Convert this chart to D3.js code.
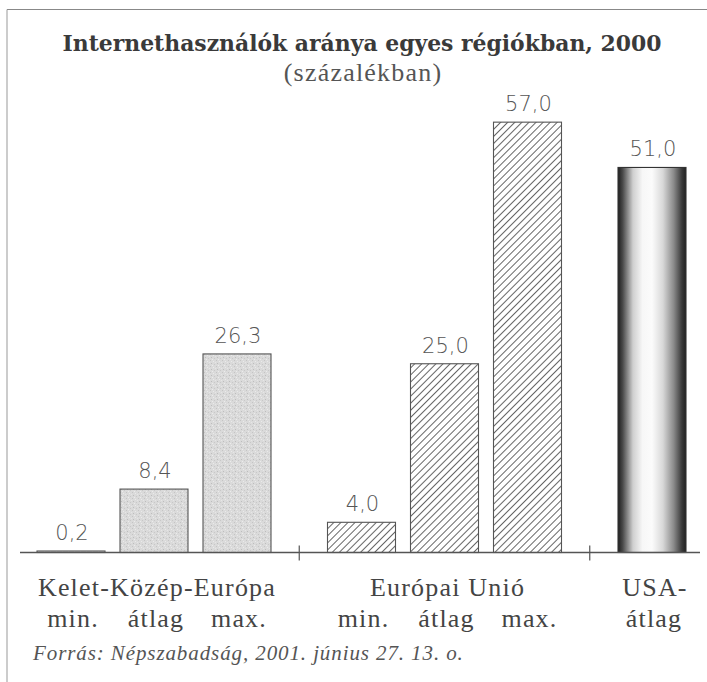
<!DOCTYPE html>
<html>
<head>
<meta charset="utf-8">
<script src="https://cdn.jsdelivr.net/npm/d3@7"></script>
<style>
  html, body { margin: 0; padding: 0; background: #fff; }
  svg { display: block; }
</style>
</head>
<body>
<div id="chart"></div>
<script>
// data
var groupNames = ["Kelet-Közép-Európa", "Európai Unió", "USA-"];
var barGroup   = [0, 0, 0, 1, 1, 1, 2];
var barNames   = ["min.", "átlag", "max.", "min.", "átlag", "max.", "átlag"];
var values     = [0.2, 8.4, 26.3, 4.0, 25.0, 57.0, 51.0];

var width = 707, height = 682;
var baseY = 552.5;
var barW = 68;

var svg = d3.select("#chart").append("svg")
  .attr("width", width)
  .attr("height", height);

var defs = svg.append("defs");

// stippled light grey
var dots = defs.append("pattern")
  .attr("id", "dots")
  .attr("patternUnits", "userSpaceOnUse")
  .attr("width", 6).attr("height", 6);
dots.append("rect").attr("width", 6).attr("height", 6).attr("fill", "#dadada");
[[0,0,"#c4c4c4"],[3,1,"#eaeaea"],[1,3,"#bdbdbd"],[4,4,"#c8c8c8"],[5,2,"#e6e6e6"],[2,5,"#ececec"]]
  .forEach(function(p) {
    dots.append("rect").attr("x", p[0]).attr("y", p[1]).attr("width", 1).attr("height", 1).attr("fill", p[2]);
  });

// diagonal hatch
var hatch = defs.append("pattern")
  .attr("id", "hatch")
  .attr("patternUnits", "userSpaceOnUse")
  .attr("width", 5).attr("height", 5)
  .attr("patternTransform", "rotate(45)");
hatch.append("rect").attr("width", 5).attr("height", 5).attr("fill", "#fff");
hatch.append("line")
  .attr("x1", 0.5).attr("y1", 0).attr("x2", 0.5).attr("y2", 5)
  .attr("stroke", "#555").attr("stroke-width", 0.9);

// cylinder shading
var cyl = defs.append("linearGradient")
  .attr("id", "cyl")
  .attr("x1", "0%").attr("x2", "100%").attr("y1", "0%").attr("y2", "0%");
[["0%","#1e1e1e"],["7%","#4a4a4a"],["22%","#cfcfcf"],["36%","#f7f7f7"],["50%","#fbfbfb"],
 ["66%","#d8d8d8"],["82%","#8a8a8a"],["94%","#3a3a3a"],["100%","#222"]]
  .forEach(function(s) { cyl.append("stop").attr("offset", s[0]).attr("stop-color", s[1]); });

var fills = ["url(#dots)", "url(#hatch)", "url(#cyl)"];

// frame
svg.append("line").attr("x1", 7).attr("x2", width).attr("y1", 9.5).attr("y2", 9.5)
  .attr("stroke", "#888").attr("stroke-width", 1.2);
svg.append("line").attr("x1", 7).attr("x2", 7).attr("y1", 9.5).attr("y2", height)
  .attr("stroke", "#999").attr("stroke-width", 1);

// title
svg.append("text")
  .attr("x", 362).attr("y", 51)
  .attr("text-anchor", "middle")
  .attr("font-family", "'DejaVu Serif'")
  .attr("font-weight", "bold")
  .attr("font-size", 21.9)
  .attr("fill", "#3a3a3a")
  .text("Internethasználók aránya egyes régiókban, 2000");
svg.append("text")
  .attr("x", 363).attr("y", 81)
  .attr("text-anchor", "middle")
  .attr("font-family", "'Liberation Serif'")
  .attr("font-size", 26)
  .attr("letter-spacing", 1.2)
  .attr("fill", "#555")
  .text("(százalékban)");

// slots: bars within a group are 1 apart, groups have an extra half slot between them
var slot = values.map(function(d, i) {
  var g = barGroup[i];
  var first = barGroup.indexOf(g);
  return g * 3.5 + (i - first);
});

var x = d3.scaleLinear().domain([0, 7]).range([71, 652]);
var y = d3.scaleLinear().domain([0, 60]).range([baseY, baseY - 60 * 7.55]);

var fmt = function(v) { return d3.format(".1f")(v).replace(".", ","); };

// bars
svg.append("g").selectAll("rect")
  .data(values)
  .enter()
  .append("rect")
    .attr("x", function(d, i) { return x(slot[i]) - barW / 2; })
    .attr("y", function(d) { return y(d); })
    .attr("width", barW)
    .attr("height", function(d) { return baseY - y(d); })
    .attr("fill", function(d, i) { return fills[barGroup[i]]; })
    .attr("stroke", function(d, i) { return barGroup[i] == 2 ? "#333" : "#555"; })
    .attr("stroke-width", 1.1);

// value labels
svg.append("g").selectAll("text")
  .data(values)
  .enter()
  .append("text")
    .attr("x", function(d, i) { return x(slot[i]) + 1; })
    .attr("y", function(d) { return y(d) - 11; })
    .attr("text-anchor", "middle")
    .attr("font-family", "'DejaVu Sans'")
    .attr("font-weight", 300)
    .attr("font-size", 21)
    .attr("fill", "#555")
    .text(fmt);

// base line and group separators
svg.append("line")
  .attr("x1", 20).attr("x2", 700).attr("y1", baseY).attr("y2", baseY)
  .attr("stroke", "#555").attr("stroke-width", 1.3);

var seps = [];
for (var i = 1; i < values.length; i++) {
  if (barGroup[i] != barGroup[i - 1]) seps.push((slot[i] + slot[i - 1]) / 2);
}
svg.append("g").selectAll("line")
  .data(seps)
  .enter()
  .append("line")
    .attr("x1", function(d) { return x(d); })
    .attr("x2", function(d) { return x(d); })
    .attr("y1", baseY - 7).attr("y2", baseY + 8)
    .attr("stroke", "#555").attr("stroke-width", 1.2);

// category labels
svg.append("g").selectAll("text")
  .data(groupNames)
  .enter()
  .append("text")
    .attr("x", function(d, g) {
      return d3.mean(slot.filter(function(s, i) { return barGroup[i] == g; }), x) + 3;
    })
    .attr("y", 596)
    .attr("text-anchor", "middle")
    .attr("font-family", "'Liberation Serif'")
    .attr("font-size", 26)
    .attr("letter-spacing", 1.2)
    .attr("fill", "#444")
    .text(function(d) { return d; });

svg.append("g").selectAll("text")
  .data(barNames)
  .enter()
  .append("text")
    .attr("x", function(d, i) { return x(slot[i]) + 2; })
    .attr("y", 627)
    .attr("text-anchor", "middle")
    .attr("font-family", "'Liberation Serif'")
    .attr("font-size", 26)
    .attr("letter-spacing", 1.2)
    .attr("fill", "#444")
    .text(function(d) { return d; });

// source
svg.append("text")
  .attr("x", 33).attr("y", 660)
  .attr("font-family", "'Liberation Serif'")
  .attr("font-style", "italic")
  .attr("font-size", 21)
  .attr("letter-spacing", 0.9)
  .attr("fill", "#555")
  .text("Forrás: Népszabadság, 2001. június 27. 13. o.");
</script>
</body>
</html>
